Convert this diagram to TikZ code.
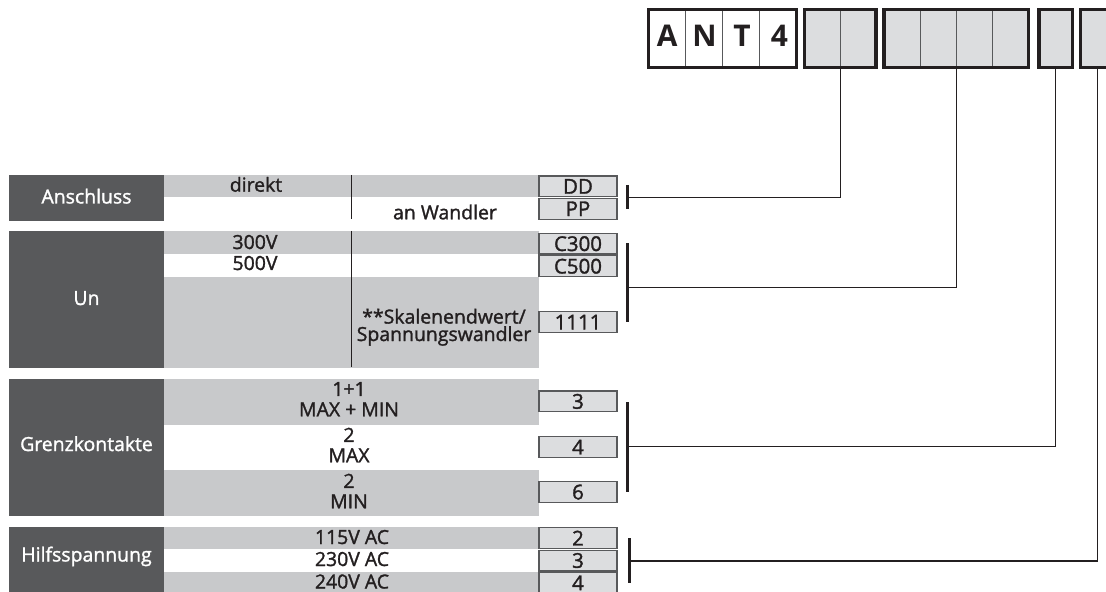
\documentclass[tikz,border=0pt]{standalone}
\usepackage{fontspec}
\setmainfont{Open Sans}
\newfontfamily\tabfamily{Open Sans}[FakeBold=1.5]
\usepackage{xcolor}
\usepackage{tikz}
\usetikzlibrary{calc, positioning}
\definecolor{darkgrey}{HTML}{58595B}
\definecolor{rowgrey}{HTML}{C8C9CB}
\definecolor{boxgrey}{HTML}{DCDDDF}
\definecolor{inkgrey}{HTML}{231F20}
\newcommand{\tabfont}{\tabfamily\fontsize{19.5}{20.5}\selectfont}
\newcommand{\codefont}{\tabfamily\fontsize{20.5}{20.5}\selectfont}
\newcommand{\keyfont}{\fontsize{30}{30}\selectfont\bfseries}
\tikzset{
    blocknode/.style = {rectangle, fill=darkgrey, inner sep=0em, outer sep=0pt, anchor=north west, 
      minimum width=155bp},
    rownode/.style = {rectangle, fill=rowgrey, inner sep=0em, outer sep=0pt, anchor=north west, 
      minimum width=375bp},
    labelnode/.style = {draw=none, fill=none, rectangle, inner sep=0em, anchor=base, text=white, font=\tabfont},
    textnode/.style = {draw=none, fill=none, rectangle, inner sep=0em, anchor=base, text=inkgrey, 
      font=\tabfont, align=center},
    codenode/.style = {draw=darkgrey, fill=boxgrey, rectangle, line width=1.2bp, inner sep=0em, outer sep=0pt, 
      minimum width=78bp, minimum height=20.8bp, anchor=north west, text=inkgrey, font=\codefont},
    keynode/.style = {draw=inkgrey, fill=boxgrey, rectangle, line width=3.3bp, inner sep=0em, outer sep=0pt, 
      minimum height=57.6bp},
    letternode/.style = {draw=none, fill=none, rectangle, inner sep=0em, minimum width=37bp, 
      text height=21.5bp, text depth=0pt, text=inkgrey, font=\keyfont},
    divider/.style = {darkgrey, line width=1bp, shorten <=1.65bp, shorten >=1.65bp},
    rule/.style = {inkgrey, line width=1.2bp},
    bar/.style = {inkgrey, line width=3bp},
    connect/.style = {inkgrey, line width=1.1bp}
}

\begin{document}
\begin{tikzpicture}[x=1bp, y=-1bp]
    \useasboundingbox (0,0) rectangle (1106,592);
    \clip (0,0) rectangle (1106,592);

    % type key
    \node [name=ant, keynode, fill=white, minimum width=148bp] at (722.7,38.5) {};
    \node [name=kb, keynode, minimum width=71.7bp, right=7.6bp of ant] {};
    \node [name=kc, keynode, minimum width=144.3bp, right=8bp of kb] {};
    \node [name=kd, keynode, minimum width=33.7bp, right=10.7bp of kc] {};
    \node [name=ke, keynode, minimum width=34bp, right=7.6bp of kd] {};
    \foreach \i in {1,2,3} {
        \draw [divider] ([xshift=\i*37bp]ant.north west) -- ([xshift=\i*37bp]ant.south west);
        \draw [divider] ([xshift=\i*36.075bp]kc.north west) -- ([xshift=\i*36.075bp]kc.south west);
    }
    \draw [divider] (kb.north) -- (kb.south);

    \node [name=la, letternode] at (667.2,36) {A};
    \node [name=ln, letternode, right=0pt of la] {N};
    \node [name=lt, letternode, right=0pt of ln] {T};
    \node [name=l4, letternode, right=0pt of lt] {4};

    % blocks
    \node [name=anschluss, blocknode, minimum height=45.7bp] at (9,175) {};
    \node [name=un, blocknode, minimum height=136.7bp] at (9,231) {};
    \node [name=grenz, blocknode, minimum height=136.7bp] at (9,379) {};
    \node [name=hilfs, blocknode, minimum height=67.3bp] at (9,526.7) {};

    \node [name=ra1, rownode, minimum height=22.3bp] at (164,175) {};
    \node [name=ru1, rownode, minimum height=23.3bp] at (164,231) {};
    \node [name=ru3, rownode, minimum height=91bp] at (164,276.7) {};
    \node [name=rg1, rownode, minimum height=46bp] at (164,379) {};
    \node [name=rg3, rownode, minimum height=45.7bp] at (164,470) {};
    \node [name=rh1, rownode, minimum height=22.3bp] at (164,526.7) {};
    \node [name=rh3, rownode, minimum height=22.5bp] at (164,571.7) {};

    \draw [rule] (351.5,175) -- (351.5,219);
    \draw [rule] (351.5,231) -- (351.5,367);

    \node [name=tanschluss, labelnode] at (86.5,203.5) {Anschluss};
    \node [name=tun, labelnode] at (86.5,305) {Un};
    \node [name=tgrenz, labelnode] at (86.5,451) {Grenzkontakte};
    \node [name=thilfs, labelnode] at (86.5,561.5) {Hilfsspannung};

    \node [name=tdirekt, textnode] at (256,191.7) {direkt};
    \node [name=twandler, textnode] at (445,219.3) {an Wandler};
    \node [name=t300, textnode] at (255,249) {300V};
    \node [name=t500, textnode] at (255,270) {500V};
    \node [name=tskala, textnode, font=\tabfamily\fontsize{19.5}{17.5}\selectfont] at (444,341) 
        {**Skalenendwert/\\Spannungswandler};
    \node [name=tg1, textnode] at (349,416.3) {1+1\\MAX + MIN};
    \node [name=tg2, textnode] at (349,462.3) {2\\MAX};
    \node [name=tg3, textnode] at (349,508.3) {2\\MIN};
    \node [name=th1, textnode] at (352,544) {115V AC};
    \node [name=th2, textnode] at (352,566) {230V AC};
    \node [name=th3, textnode] at (352,588.5) {240V AC};

    % codes
    \node [name=dd, codenode] at (539,176) {DD};
    \node [name=pp, codenode, below=1.6bp of dd] {PP};
    \node [name=c300, codenode] at (539,233.3) {C300};
    \node [name=c500, codenode, below=1.7bp of c300] {C500};
    \node [name=c1111, codenode] at (539,311.7) {1111};
    \node [name=kg3, codenode] at (539,391) {3};
    \node [name=kg4, codenode] at (539,436.7) {4};
    \node [name=kg6, codenode] at (539,481.7) {6};
    \node [name=kh2, codenode] at (539,527.7) {2};
    \node [name=kh3, codenode, below=1.6bp of kh2] {3};
    \node [name=kh4, codenode, below=1.6bp of kh3] {4};

    \coordinate (j1) at (627,197.3);
    \coordinate (j2) at (627,287.5);
    \coordinate (j3) at (627,446.7);
    \coordinate (j4) at (629,561);
    \draw [bar] (627,185) -- (627,209);
    \draw [bar] (627,243.3) -- (627,322);
    \draw [bar] (627,402.3) -- (627,492.3);
    \draw [bar] (629,538.3) -- (629,583.3);
    \draw [connect] (j1) -| (kb.south);
    \draw [connect] (j2) -| (kc.south);
    \draw [connect] (j3) -| (kd.south);
    \draw [connect] (j4) -| (ke.south);
\end{tikzpicture}
\end{document}
